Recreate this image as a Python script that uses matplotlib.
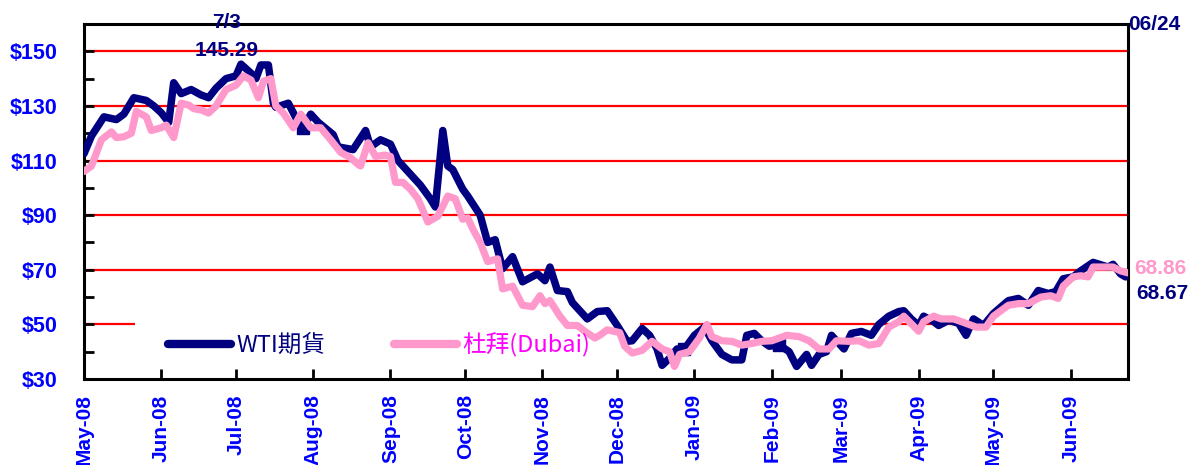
import matplotlib
matplotlib.use("Agg")
import matplotlib.pyplot as plt
import matplotlib.dates as mdates
from matplotlib.patches import Rectangle
import pandas as pd

# ---------------- data ----------------
wti_dates = [
    '2008-05-01', '2008-05-04', '2008-05-09', '2008-05-14', '2008-05-17', '2008-05-21', '2008-05-26', '2008-05-29', '2008-06-01', '2008-06-04',
    '2008-06-06', '2008-06-09', '2008-06-13', '2008-06-17', '2008-06-20', '2008-06-23', '2008-06-27', '2008-07-01', '2008-07-03', '2008-07-07',
    '2008-07-09', '2008-07-11', '2008-07-14', '2008-07-16', '2008-07-17', '2008-07-22', '2008-07-26', '2008-07-28', '2008-07-31', '2008-08-03',
    '2008-08-09', '2008-08-11', '2008-08-17', '2008-08-22', '2008-08-24', '2008-08-28', '2008-09-01', '2008-09-04', '2008-09-08', '2008-09-13',
    '2008-09-17', '2008-09-19', '2008-09-22', '2008-09-24', '2008-09-26', '2008-09-30', '2008-10-02', '2008-10-07', '2008-10-10', '2008-10-13',
    '2008-10-16', '2008-10-20', '2008-10-24', '2008-10-30', '2008-11-02', '2008-11-04', '2008-11-07', '2008-11-11', '2008-11-13', '2008-11-19',
    '2008-11-23', '2008-11-27', '2008-12-01', '2008-12-05', '2008-12-07', '2008-12-11', '2008-12-14', '2008-12-17', '2008-12-19', '2008-12-22',
    '2008-12-25', '2008-12-28', '2009-01-01', '2009-01-05', '2009-01-08', '2009-01-12', '2009-01-16', '2009-01-20', '2009-01-22', '2009-01-25',
    '2009-01-28', '2009-01-31', '2009-02-04', '2009-02-08', '2009-02-11', '2009-02-15', '2009-02-17', '2009-02-20', '2009-02-23', '2009-02-25',
    '2009-03-02', '2009-03-05', '2009-03-09', '2009-03-13', '2009-03-16', '2009-03-20', '2009-03-24', '2009-03-26', '2009-03-29', '2009-04-01',
    '2009-04-03', '2009-04-07', '2009-04-09', '2009-04-13', '2009-04-17', '2009-04-20', '2009-04-23', '2009-04-27', '2009-05-01', '2009-05-07',
    '2009-05-11', '2009-05-15', '2009-05-19', '2009-05-23', '2009-05-26', '2009-05-29', '2009-06-02', '2009-06-05', '2009-06-10', '2009-06-16',
    '2009-06-18', '2009-06-21', '2009-06-23', '2009-06-24',
]
wti_values = [
    112.5, 119, 126, 125, 127, 133, 132, 130, 127.5, 124,
    138.5, 134.5, 136, 134, 133, 136.5, 140, 141, 145.3, 142,
    140, 145, 145, 131, 129.5, 131, 124, 122, 127, 124,
    119.5, 115, 114, 121, 115, 117.6, 116, 110, 106, 101,
    96, 93, 121, 108, 106.7, 99.5, 97, 90, 80, 81,
    70.4, 74.8, 65.6, 68.5, 66, 71, 62.4, 62, 58, 52,
    54.7, 55, 49.6, 43.8, 44, 48.5, 46, 41, 35, 37.6,
    41, 41, 46, 49, 44, 39, 37, 37, 46, 46.7,
    44, 42, 42.5, 40, 34.6, 39, 35, 39, 40, 46,
    41, 46.7, 47.4, 46, 50, 53, 54.7, 55, 52, 49.6,
    53, 51, 49.6, 51.5, 50.4, 46, 52, 49.6, 54, 58.7,
    59.5, 57, 62.4, 61.3, 62, 66.7, 67.4, 69.6, 72.7, 71,
    72, 68.5, 67.4, 68.67,
]
wti_marker_dates = ['2008-07-28', '2008-12-28', '2009-02-04']

dubai_dates = [
    '2008-05-01', '2008-05-04', '2008-05-08', '2008-05-12', '2008-05-14', '2008-05-17', '2008-05-20', '2008-05-22', '2008-05-26', '2008-05-28',
    '2008-06-01', '2008-06-03', '2008-06-06', '2008-06-09', '2008-06-12', '2008-06-14', '2008-06-17', '2008-06-20', '2008-06-23', '2008-06-27',
    '2008-07-01', '2008-07-04', '2008-07-07', '2008-07-10', '2008-07-12', '2008-07-15', '2008-07-17', '2008-07-20', '2008-07-24', '2008-07-27',
    '2008-07-31', '2008-08-04', '2008-08-08', '2008-08-12', '2008-08-16', '2008-08-19', '2008-08-20', '2008-08-23', '2008-08-26', '2008-08-30',
    '2008-09-01', '2008-09-03', '2008-09-06', '2008-09-09', '2008-09-12', '2008-09-16', '2008-09-20', '2008-09-24', '2008-09-27', '2008-09-30',
    '2008-10-02', '2008-10-04', '2008-10-07', '2008-10-10', '2008-10-14', '2008-10-16', '2008-10-20', '2008-10-24', '2008-10-28', '2008-10-31',
    '2008-11-02', '2008-11-04', '2008-11-08', '2008-11-11', '2008-11-15', '2008-11-18', '2008-11-22', '2008-11-24', '2008-11-27', '2008-12-02',
    '2008-12-04', '2008-12-07', '2008-12-11', '2008-12-15', '2008-12-19', '2008-12-22', '2008-12-24', '2008-12-26', '2008-12-30', '2009-01-03',
    '2009-01-06', '2009-01-08', '2009-01-12', '2009-01-16', '2009-01-20', '2009-01-24', '2009-01-28', '2009-02-01', '2009-02-07', '2009-02-12',
    '2009-02-16', '2009-02-20', '2009-02-24', '2009-02-27', '2009-03-04', '2009-03-08', '2009-03-12', '2009-03-16', '2009-03-20', '2009-03-24',
    '2009-03-26', '2009-04-01', '2009-04-03', '2009-04-07', '2009-04-10', '2009-04-15', '2009-04-20', '2009-04-24', '2009-04-28', '2009-05-01',
    '2009-05-07', '2009-05-11', '2009-05-15', '2009-05-20', '2009-05-24', '2009-05-27', '2009-05-29', '2009-06-02', '2009-06-05', '2009-06-08',
    '2009-06-10', '2009-06-16', '2009-06-18', '2009-06-21', '2009-06-24',
]
dubai_values = [
    106, 108, 117.6, 120.5, 118.4, 118.7, 120, 128, 126, 121,
    122, 123, 118.4, 131, 130.3, 129, 128.5, 127.4, 130, 136,
    137.6, 141, 139.5, 133, 139, 140, 130, 127.4, 122, 127,
    122, 122, 117.6, 113, 111, 108.6, 108, 116.5, 111.5, 112,
    111.5, 102, 102, 99.5, 96, 87.5, 89.6, 97, 96, 88.5,
    89, 85, 80, 73, 74, 63, 64, 57, 56.5, 60.5,
    57.6, 58.7, 53, 49.6, 49.6, 47.5, 45, 46, 48, 47,
    42, 39.5, 40.5, 43.8, 41, 40, 34.6, 39, 40, 45,
    50, 45.5, 44, 43.8, 42.4, 43, 43.8, 44, 46, 45.5,
    44, 41, 41, 44, 43.8, 44, 42.4, 43, 49, 51,
    53, 47.5, 51, 53, 52, 52, 50.4, 49, 49, 53,
    57, 57.6, 57.6, 60, 60.5, 59.5, 64, 67.4, 67.8, 67.4,
    71, 71, 71, 69.6, 68.86,
]

series_labels = ['WTI期貨', '杜拜(Dubai)']
y_ticks = [30, 50, 70, 90, 110, 130, 150]
y_minor = [40, 60, 80, 100, 120, 140, 160]
grid_values = [50, 70, 90, 110, 130, 150]
peak_date_label = '7/3'
peak_value_label = '145.29'
end_date_label = '06/24'
dubai_end_label = '68.86'
wti_end_label = '68.67'
x_start, x_end = '2008-05-01', '2009-06-24'

# ---------------- styling ----------------
NAVY = '#000080'
PINK = '#FF99CC'
BLUE = '#0000FF'
MAGENTA = '#FF00FF'
plt.rcParams['font.family'] = ['Liberation Sans', 'DejaVu Sans']

W, H = 1191, 465
fig = plt.figure(figsize=(W / 100, H / 100), dpi=100)
L, R, T, B = 84, 1128, 24, 379
ax = fig.add_axes([L / W, 1 - B / H, (R - L) / W, (B - T) / H])

wd = pd.to_datetime(wti_dates)
dd = pd.to_datetime(dubai_dates)
mk = [wti_dates.index(d) for d in wti_marker_dates]

for g in grid_values:
    ax.axhline(g, color='#FF0000', lw=1.6, zorder=1)

# white legend background hiding part of the $50 gridline
ax.add_patch(Rectangle(((135 - L) / (R - L), 0.0), (640 - 135) / (R - L), (B - 322) / (B - T),
                       transform=ax.transAxes, facecolor='white', edgecolor='none', zorder=1.5))

ax.plot(wd, wti_values, color=NAVY, lw=5.4, solid_joinstyle='round', solid_capstyle='round',
        marker='s', markevery=mk, markersize=9, markerfacecolor=NAVY, markeredgecolor=NAVY,
        zorder=3, label=series_labels[0])
ax.plot(dd, dubai_values, color=PINK, lw=5.2, solid_joinstyle='round', solid_capstyle='round',
        zorder=4, label=series_labels[1])

ax.set_xlim(pd.Timestamp(x_start), pd.Timestamp(x_end))
ax.set_ylim(30, 160)

ax.set_yticks(y_ticks)
ax.set_yticklabels(['${}'.format(v) for v in y_ticks])
ax.set_yticks(y_minor, minor=True)
ax.tick_params(axis='y', which='both', direction='in', length=7, width=2, colors='black',
               labelcolor=BLUE, labelsize=15.5, pad=19, right=False)
ax.xaxis.set_major_locator(mdates.MonthLocator())
ax.xaxis.set_major_formatter(mdates.DateFormatter('%b-%y'))
ax.tick_params(axis='x', which='both', direction='in', length=7, width=2, colors='black',
               labelcolor=BLUE, labelsize=15, pad=11, top=False)
for lab in ax.get_xticklabels():
    lab.set_rotation(90)
    lab.set_fontweight('bold')
    lab.set_ha('center')
    lab.set_va('top')
for lab in ax.get_yticklabels():
    lab.set_fontweight('bold')

for s in ax.spines.values():
    s.set_color('black')
    s.set_linewidth(2.2)

leg = ax.legend(loc='center left', bbox_to_anchor=((168 - L) / (R - L), (B - 345) / (B - T)),
                ncol=2, frameon=False, borderpad=0, borderaxespad=0,
                handlelength=2.65, handletextpad=0.25, columnspacing=2.9,
                prop={'family': ['Noto Sans CJK TC', 'DejaVu Sans'], 'size': 17},
                labelcolor=[NAVY, MAGENTA])
for h in leg.legend_handles:
    h.set_linewidth(6)
    h.set_marker('')

def px(x, y):
    return x / W, 1 - y / H

fig.text(*px(227, 22), peak_date_label, color=NAVY, fontsize=15, fontweight='bold', ha='center', va='center')
fig.text(*px(227, 51), peak_value_label, color=NAVY, fontsize=15, fontweight='bold', ha='center', va='center')
fig.text(*px(1128, 24), end_date_label, color=NAVY, fontsize=15, fontweight='bold', ha='left', va='center')
fig.text(*px(1134, 268), dubai_end_label, color=PINK, fontsize=15, fontweight='bold', ha='left', va='center')
fig.text(*px(1136, 293), wti_end_label, color=NAVY, fontsize=15, fontweight='bold', ha='left', va='center')

fig.savefig('out.png', dpi=100)
